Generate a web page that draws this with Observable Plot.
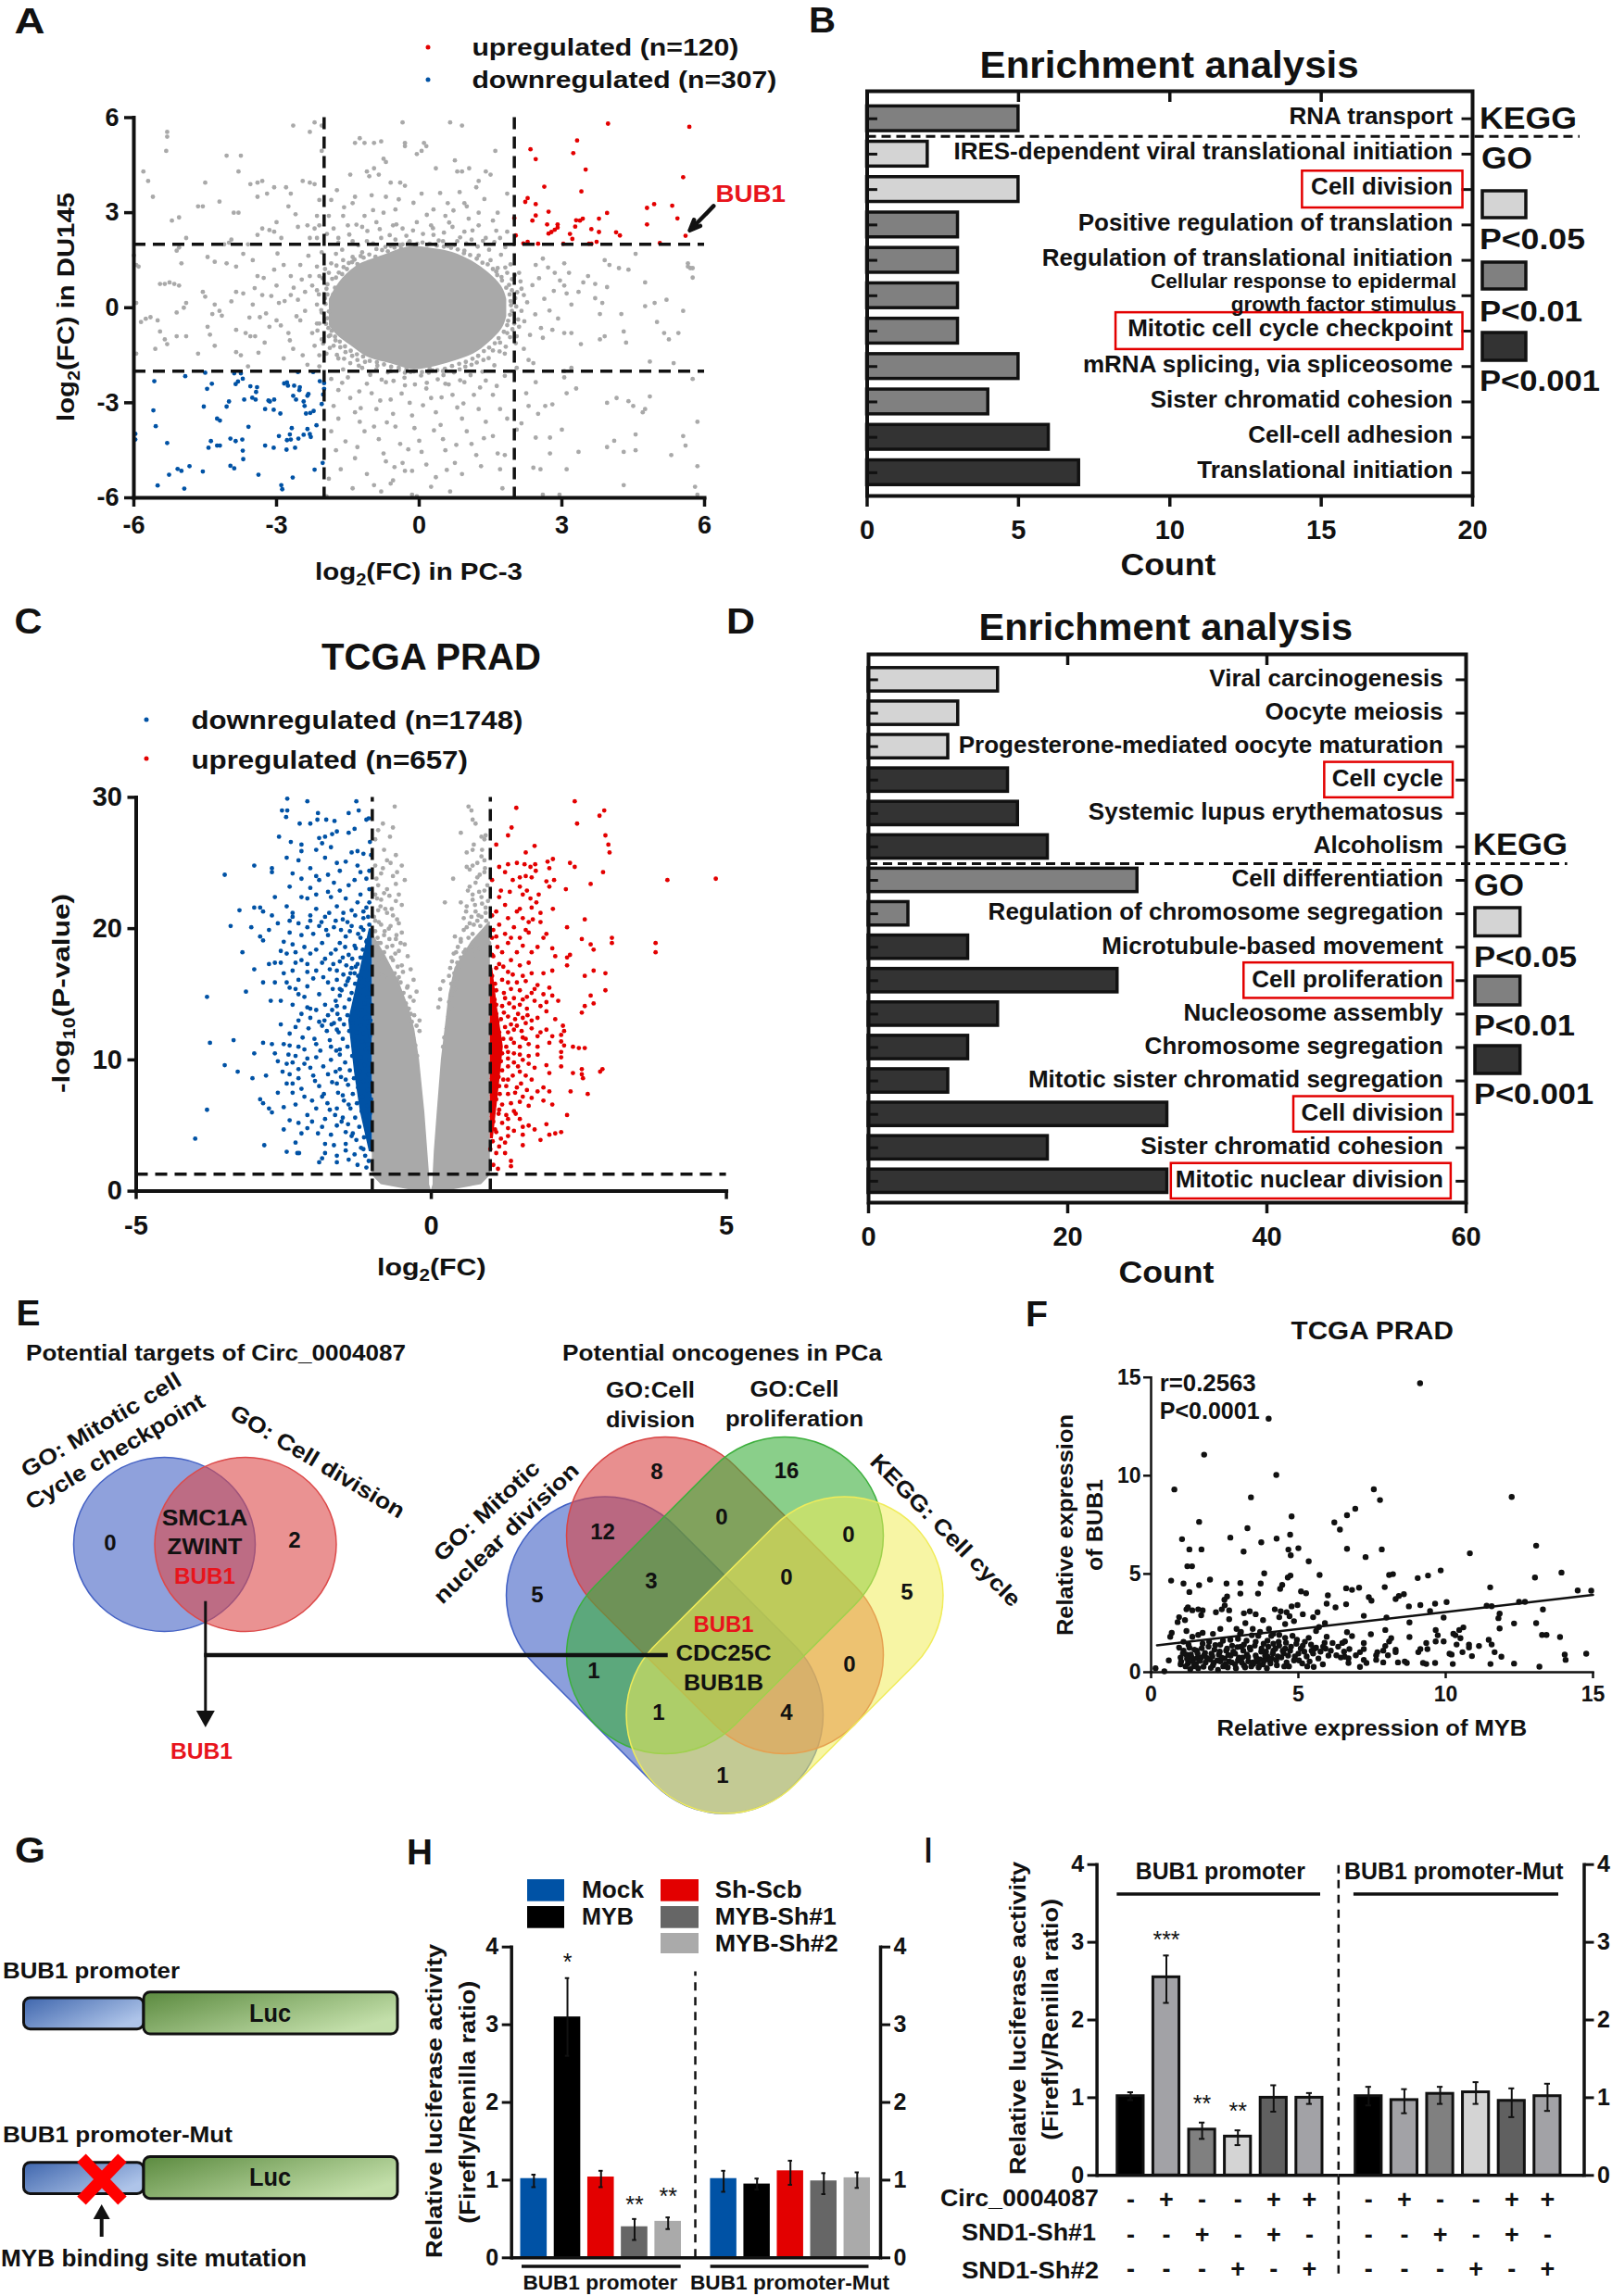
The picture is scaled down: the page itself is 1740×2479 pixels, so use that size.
<!DOCTYPE html>
<html>
<head>
<meta charset="utf-8">
<script src="https://cdn.jsdelivr.net/npm/d3@7"></script>
<script src="https://cdn.jsdelivr.net/npm/@observablehq/plot@0.6"></script>
<style>
html,body{margin:0;padding:0;background:#fff}
#page{position:relative;width:1740px;height:2479px;overflow:hidden}
#page svg{position:absolute;left:0;top:0}
</style>
</head>
<body>
<div id="page"></div>
<script>
// ---------- Panel A values ----------
const aUp=[[5.68,5.71],[3.97,5.81],[3.32,5.28],[3.24,4.88],[2.34,5],[2.45,4.69],[3.5,4.36],[5.55,4.12],[2.63,3.82],[3.41,3.67],[2.28,3.46],[2.23,3.34],[2.45,3.27],[4.94,3.27],[4.79,3.15],[5.32,3.22],[2.72,3.03],[3.95,2.99],[2.45,2.91],[5.43,2.82],[2.38,2.75],[3.78,2.81],[3.44,2.81],[3.38,2.75],[3.3,2.76],[4.79,2.63],[2.69,2.63],[2.91,2.63],[2.91,2.53],[3.28,2.56],[3.62,2.48],[2.85,2.46],[2.78,2.39],[2.72,2.34],[3.78,2.39],[4.14,2.38],[4.22,2.28],[5.6,2.27],[2.03,2.28],[3.17,2.33],[3.22,2.17],[2.28,2.08],[2.19,2.03],[2.5,2.02],[3.03,2.02],[3.57,2.02],[3.62,2.02],[3.73,2.08],[5.06,2.04],[2.0,2.83]];
const aDown=[[-5.97,-3.98],[-5.97,-4.16],[-5.57,-2.32],[-5.59,-3.24],[-5.54,-3.74],[-5.3,-4.27],[-5.5,-5.61],[-5.26,-5.27],[-5.08,-5.09],[-5,-5.15],[-4.83,-5],[-4.94,-5.71],[-4.55,-5.17],[-4.92,-2.16],[-4.5,-2.05],[-4.36,-2.4],[-4.46,-2.56],[-4.53,-3.12],[-4.25,-3.5],[-4.19,-3.56],[-4.38,-4.21],[-4.43,-4.42],[-4.25,-4.35],[-4.19,-4.35],[-3.97,-4.13],[-3.86,-4.21],[-3.72,-4.16],[-3.71,-4.51],[-3.7,-4.78],[-3.97,-4.99],[-3.89,-5.07],[-3.38,-5.27],[-3.89,-2.07],[-3.75,-2.07],[-3.71,-2.24],[-3.81,-2.33],[-3.86,-2.41],[-3.55,-2.48],[-3.41,-2.51],[-3.43,-2.66],[-3.51,-2.84],[-3.68,-2.9],[-3.44,-2.9],[-4,-2.96],[-4.05,-3.12],[-3.59,-3.76],[-3.24,-3.2],[-3.06,-3.22],[-2.92,-3.34],[-3.14,-2.96],[-3.17,-2.93],[-3.05,-2.9],[-2.84,-2.39],[-2.78,-2.36],[-2.76,-2.46],[-2.63,-2.46],[-2.51,-2.51],[-2.52,-2.6],[-2.65,-2.78],[-2.59,-2.9],[-2.43,-2.96],[-2.41,-3.1],[-2.35,-2.78],[-2.33,-2.72],[-2.38,-3.34],[-2.29,-3.32],[-2.22,-3.26],[-2.09,-2.32],[-2,-2.38],[-2,-2.56],[-2.02,-2.74],[-2.05,-3.04],[-2.16,-3.71],[-2.55,-2.03],[-2.23,-2.03],[-2.68,-3.8],[-2.72,-4],[-2.78,-4.18],[-2.79,-4.48],[-2.61,-4.42],[-2.7,-4.16],[-2.54,-4.13],[-2.43,-4.01],[-2.35,-3.83],[-2.3,-3.99],[-2.28,-4.08],[-3.24,-4.35],[-3.06,-4.42],[-2.66,-5.36],[-2.2,-5.11],[-2.03,-4.9],[-2.9,-5.6],[-2.88,-5.73],[-2.95,-4.05]];
const aGrey=[[-5.3,5.55],[-5.3,5.4],[-5.32,4.95],[-5.8,4.3],[-5.7,4],[-5.6,3.5],[-5.2,2.75],[-5.05,2.85],[-4.65,3.2],[-4.55,3.2],[-4.5,3.95],[-4.2,3.35],[-4.05,4.8],[-3.75,4.8],[-3.8,4.3],[-3.9,3],[-3.8,3],[-3.55,3.9],[-3.4,3.95],[-3.3,4],[-3.4,3.5],[-3.2,3.6],[-3.05,3.8],[-2.8,3.8],[-2.7,3.6],[-2.75,3.2],[-3,2.7],[-3.3,2.5],[-3.15,2.45],[-3.05,2.4],[-2.6,2.95],[-2.55,2.55],[-2.9,2.2],[-3.4,2.3],[-3.95,2.15],[-4,2.05],[-4.1,2],[-4.9,2.2],[-5.05,1.9],[-2.65,5.75],[-2.3,5.55],[-2.2,5.85],[-2.05,5.75],[-2.05,4.95],[-2.45,4],[-2.3,3.95],[-2.2,3.9],[-2.1,3.4],[-2.15,2.9],[-2.35,2.6],[-2.2,2.5],[-2.1,2.6],[-2.3,2.2],[-2.15,2.2],[-1.9,2.9],[-1.85,3.4],[-1.8,2.5],[-1.7,2.2],[-1.6,2.9],[-1.5,2.6],[-1.45,4.2],[-1.4,3.3],[-1.35,3.5],[-1.35,5.2],[-1.25,5.35],[-1.15,5.2],[-.95,5.2],[-.8,5.25],[-.35,5.85],[-.3,5.2],[-.3,5.1],[.1,5.2],[.15,5.1],[.05,4.95],[-.05,4.85],[.65,5.85],[.9,5.75],[1.6,4.95],[-.75,4.7],[-.7,4.6],[-.95,4.4],[-1.1,4.3],[-1.05,4.15],[-.85,4.2],[-.6,3.95],[-.4,3.95],[-.3,3.85],[.05,3.6],[.35,4.4],[.75,4.65],[.8,4.3],[.9,4.3],[1.05,4.4],[1.4,4.3],[1.5,4.2],[1.25,4],[1.2,3.8],[.85,3.65],[.95,3.3],[1,3.2],[1.25,3],[.6,3.3],[.3,3.1],[.55,2.9],[-.5,3.1],[-.7,3.5],[-1,3.55],[-1.15,2.9],[-1.2,2.55],[-.9,2.7],[-.75,3],[-.55,2.6],[-.35,2.5],[-.05,2.7],[.25,2.6],[.3,2.3],[.7,2.55],[.95,2.4],[1.25,2.6],[1.55,2.75],[1.65,3],[1.85,3.6],[1.85,2.4],[1.7,2.2],[1.4,2.2],[1.1,2.15],[.8,2.1],[.5,2.1],[-.2,2.1],[-.5,2.15],[-.8,2.2],[-1.1,2.1],[-1.4,2.1],[-1.7,2.05],[-6,1.65],[-5.95,1.35],[-5.9,1.3],[-5.95,.15],[-5.85,-.45],[-5.75,-.35],[-5.65,-.3],[-5.5,-.4],[-5.45,-.75],[-5.35,-1],[-5.55,-1.3],[-5.95,-1.45],[-5.3,-1.15],[-5.45,.75],[-5.35,.75],[-5.25,.8],[-5.15,.75],[-5.05,.7],[-5,1.4],[-5.1,1.8],[-4.95,0],[-4.9,.15],[-5.1,-.15],[-5.1,-.9],[-4.9,-.9],[-4.65,-1.45],[-4.55,.5],[-4.5,.35],[-4.45,1.6],[-4.3,1.45],[-4.3,.1],[-4.2,-.1],[-4.15,-.25],[-4.05,1.4],[-4.35,-.2],[-4.45,-.6],[-4.4,-.85],[-4.3,-1.2],[-3.95,.2],[-3.85,.5],[-3.7,.45],[-3.85,1.3],[-3.7,1.7],[-3.6,2],[-3.5,1.5],[-3.4,1],[-3.3,.4],[-3.5,.1],[-3.35,-.3],[-3.65,-.8],[-3.55,-.9],[-3.45,-.9],[-3.85,-.7],[-3.85,-1.4],[-3.75,-1.5],[-3.6,-1.85],[-3.25,-1.1],[-3.15,-.6],[-3,-.4],[-2.95,.15],[-3,.7],[-3.05,1.2],[-2.85,1.35],[-2.7,1],[-2.5,1.35],[-2.7,.4],[-2.55,.25],[-2.4,.5],[-2.4,-.1],[-2.5,-.4],[-2.75,-.8],[-2.65,-1.3],[-2.85,-1.6],[-2.45,-1.5],[-2.35,-1.8],[-2.2,-1.2],[-2.25,-.8],[-2.15,-.5],[-2.15,.1],[-2.25,.7],[-2.3,1],[-2.15,1.3],[-2.05,1.75],[-2.1,1],[-2.15,.55],[-2.05,-.15],[-2.1,-.5],[-2.05,-1],[-2.1,-1.5],[-2.1,-1.85],[-1.95,.6],[-1.98,.3],[-1.9,1.1],[-1.85,1.4],[-1.75,1.7],[-1.6,1.5],[-1.75,.95],[-1.9,-.9],[-1.8,-1.2],[-1.95,-1.45],[-1.7,-1.6],[-1.55,-1.4],[-1.45,-1.75],[-1.3,-1.65],[-1.6,-1.95],[-1.2,-1.9],[-1.4,1.6],[-1.2,1.75],[-.9,1.85],[-.6,1.95],[-.35,2],[.35,2],[.6,1.95],[.95,1.8],[1.25,1.65],[1.5,1.5],[1.65,1.25],[1.85,1.1],[1.95,.9],[1.95,.55],[2.02,.3],[1.95,-.1],[2,-.5],[1.85,-.8],[1.7,-1.1],[1.8,-1.45],[1.55,-1.35],[1.35,-1.65],[1.1,-1.8],[.85,-1.95],[.5,-2],[.2,-2.05],[-.3,-2.05],[-.6,-2],[-.9,-1.95],[2.1,1.1],[2.15,.6],[2.2,.4],[2.15,-.1],[2.1,-.6],[2.05,-.9],[2.2,-1.3],[2.3,-1.65],[2.05,-1.9],[2.4,-1.75],[2.6,-.95],[2.8,-.7],[2.6,1.55],[2.45,1.35],[2.85,1.1],[3.05,1.4],[3.15,1.1],[3.05,.7],[3.1,.45],[3.2,.1],[3.35,.5],[3.45,.8],[3.55,1],[3.9,1.5],[4,1.35],[4.2,1.25],[4.4,1.2],[3.95,.65],[3.7,.75],[3.7,.3],[3.85,.15],[3.8,-.2],[3.05,-.8],[3.2,-.8],[3.2,-1.9],[3.05,-2],[3.4,-1.15],[3.9,-.9],[3.8,-1],[4.25,-.2],[4.3,-.75],[4.35,-1.1],[4.55,1.7],[4.75,.8],[4.75,.05],[4.95,.15],[5.2,.25],[5,-.45],[5.15,-.8],[5.25,-1],[5.45,-.8],[5.55,-.1],[5.65,1.4],[5.65,1.3],[5.7,1.25],[5.75,1.25],[5.75,.95],[4.85,-1.7],[5.35,-1.75],[5.75,-2.25],[5.85,-3.6],[5.55,-4.05],[5.6,-4.35],[5.3,-4.65],[5.85,-5],[5.8,-5.65],[5.85,-5.9],[2.15,-3.65],[2.05,-3.85],[2.45,-2.35],[2.25,-2.7],[2.3,-3.1],[2.65,-3.1],[2.5,-3.35],[2.8,-3.05],[3.05,-2.2],[3.1,-2.7],[3.3,-2.55],[3,-3.85],[2.75,-4.1],[2.75,-4.6],[2.55,-5.1],[2.4,-5.05],[2.45,-4.1],[3.1,-5.1],[3.35,-4.55],[3.95,-3],[4.15,-2.85],[4.4,-2.95],[4.5,-3.1],[4.7,-3.3],[4.75,-3.2],[4.85,-2.8],[4.55,-4],[3.95,-4.4],[4.1,-4.2],[4.3,-4.55],[4.55,-4.5],[4.3,-5.6],[2.6,-5.9],[2.95,-5.9],[-1.85,-2.25],[-1.7,-2.6],[-1.8,-3.1],[-1.7,-3.5],[-1.85,-3.9],[-1.75,-4.5],[-1.65,-5.1],[-1.9,-5.4],[-1.95,-5.95],[-1.5,-2.2],[-1.45,-2.85],[-1.35,-3.3],[-1.25,-3.6],[-1.15,-3.9],[-1.3,-4.4],[-1.35,-4.75],[-1.4,-5.7],[-1.1,-5.25],[-1.1,-2.4],[-1,-2.7],[-.9,-3.2],[-.95,-3.75],[-.85,-4.15],[-.75,-4.6],[-.7,-4.85],[-.95,-5.6],[-.8,-5.8],[-.6,-5.55],[-.55,-5.45],[-.7,-2.35],[-.6,-2.9],[-.55,-3.35],[-.5,-3.75],[-.4,-4.3],[-.35,-4.9],[-.3,-5.15],[-.15,-5.15],[-.15,-5.9],[-.05,-5.95],[-.3,-2.45],[-.2,-3],[-.15,-3.4],[-.1,-3.8],[0,-4.2],[.05,-4.55],[.15,-4.95],[.35,-5.35],[.25,-5.65],[.65,-5.8],[.15,-2.55],[.25,-2.85],[.35,-3.3],[.45,-3.7],[.5,-4.15],[.55,-4.5],[.75,-4.9],[.9,-5.25],[.55,-2.4],[.7,-2.75],[.8,-3.15],[.9,-3.5],[1,-3.9],[1.1,-4.3],[1.2,-4.65],[1.3,-5],[.95,-2.35],[1.15,-2.75],[1.25,-3.2],[1.4,-3.6],[1.55,-4.05],[1.65,-4.6],[1.8,-4.65],[1.7,-5.1],[1.75,-5.7],[1.4,-2.3],[1.55,-2.75],[1.7,-3.2],[1.85,-3.5],[1.8,-2.15]];
const aGreyHalo=[[-1.62,1.83],[-1.47,2.31],[-1.28,1.97],[-1.09,2.42],[-.97,2.03],[-.83,2.48],[-.71,1.92],[-.62,2.29],[-.48,2.63],[-.41,1.98],[-.27,2.27],[-.13,2.44],[-.04,2.02],[.08,2.33],[.17,1.99],[.29,2.51],[.41,2.12],[.52,2.37],[.63,2.69],[.74,1.98],[.86,2.22],[.99,2.03],[1.12,2.44],[1.23,1.93],[1.34,2.11],[1.47,1.83],[1.58,2.07],[1.72,1.67],[1.81,1.91],[-1.98,1.22],[-2.03,.93],[-1.93,.74],[-2.11,.42],[-1.97,.12],[-2.06,-.08],[-1.99,-.37],[-2.14,-.72],[-1.91,-.64],[-1.87,-.87],[-2.02,-1.13],[-1.88,-1.27],[-1.76,-1.03],[-1.66,-1.25],[-1.73,-1.49],[-1.58,-1.61],[-1.81,.42],[-1.77,.63],[-1.69,1.11],[-1.59,1.28],[-1.48,1.41],[-1.36,1.52],[-1.23,1.63],[-1.41,-1.52],[-1.27,-1.83],[-1.14,-1.71],[-1.03,-2.12],[-.88,-1.83],[-.79,-2.27],[-.66,-2.04],[-.54,-2.31],[-.43,-1.97],[-.31,-2.21],[-.18,-2.03],[-.09,-2.42],[.04,-2.14],[.16,-2.37],[.28,-1.98],[.39,-2.26],[.51,-2.13],[.62,-2.42],[.73,-2.04],[.86,-2.29],[.97,-1.86],[1.08,-2.13],[1.21,-1.73],[1.33,-2.02],[1.46,-1.59],[1.58,-1.82],[1.69,-1.38],[1.82,-1.23],[1.91,-.93],[2.03,-1.12],[1.96,-.68],[2.08,-.37],[1.87,-.41],[2.04,.04],[1.92,.21],[2.06,.49],[1.89,.72],[2.01,1.03],[1.81,1.27],[1.73,.97],[1.62,1.14],[1.92,1.37],[2.13,.83],[2.21,-.43],[2.27,.17],[2.33,-.86],[2.38,.71],[2.44,-.21],[2.52,.93],[2.56,-.64],[2.63,.28],[2.71,1.27],[2.74,-.09],[2.83,.53],[2.92,-.34],[2.96,.86],[-2.33,1.64],[-2.47,.89],[-2.58,-.27],[-2.64,.63],[-2.72,-1.03],[-2.83,.21],[-2.91,-.56],[-2.98,1.71],[-3.11,.37],[-3.22,-.18],[-3.27,.94],[-3.38,-1.42],[-3.46,.62],[-3.57,-.31],[-.97,3.08],[-.43,3.42],[-.12,3.31],[.16,2.93],[.44,3.62],[.72,3.07],[1.04,2.81],[1.37,3.43],[-1.32,2.62],[-1.58,3.17],[-1.73,3.71],[-1.94,2.33],[1.62,2.43],[-1.62,-2.37],[-1.26,-2.64],[-.82,-2.93],[-.37,-2.71],[.08,-3.08],[.47,-2.83],[.93,-3.02],[1.28,-2.52],[1.63,-2.47],[-1.23,-3.17],[-.68,-3.62],[-.23,-4.47],[.31,-3.87],[.78,-4.33],[1.36,-4.12],[-1.55,-4.22],[-.52,-5.03],[.58,-5.12],[-1.93,.42],[-1.9,-.12],[-1.96,-.51],[-1.83,.91],[-1.74,1.33],[-1.62,1.06],[-1.52,1.22],[-1.41,1.44],[-1.3,1.38],[-1.17,1.58],[-1.05,1.68],[-.92,1.61],[-.78,1.82],[-.66,1.78],[-.52,1.9],[-.38,1.87],[-.23,2.04],[-.08,1.97],[.07,2.06],[.22,2.02],[.37,1.96],[.52,1.93],[.67,1.89],[.81,1.84],[.94,1.72],[1.07,1.66],[1.21,1.55],[1.33,1.42],[1.44,1.37],[1.55,1.22],[1.64,1.03],[1.74,.86],[1.83,.63],[1.9,.42],[1.93,.08],[1.91,-.22],[1.85,-.55],[1.78,-.76],[1.67,-.96],[1.59,-1.12],[1.47,-1.26],[1.36,-1.37],[1.24,-1.52],[1.12,-1.61],[.98,-1.71],[.84,-1.77],[.69,-1.84],[.54,-1.93],[.38,-1.97],[.22,-1.93],[.06,-2.03],[-.11,-2.01],[-.27,-1.95],[-.43,-1.89],[-.59,-1.86],[-.74,-1.79],[-.89,-1.72],[-1.04,-1.68],[-1.18,-1.54],[-1.31,-1.47],[-1.44,-1.36],[-1.56,-1.22],[-1.67,-1.07],[-1.77,-.91],[-1.84,-.73],[-1.93,-.33]];
// dense core of panel A, outline
const aCoreX=[-1.89,-1.68,-1.35,-1.03,-.59,-.16,.27,.7,1.14,1.46,1.73,1.84];
const aCoreHi=[.26,.8,1.28,1.51,1.75,1.93,1.87,1.75,1.45,1.1,.68,.26];
const aCoreLo=[-.57,-.93,-1.29,-1.59,-1.77,-1.95,-1.88,-1.7,-1.46,-1.11,-.69,-.28];

// ---------- Panel B values ----------
const bTerms=["RNA transport","IRES-dependent viral translational initiation","Cell division","Positive regulation of translation","Regulation of translational initiation","Cellular response to epidermal\ngrowth factor stimulus","Mitotic cell cycle checkpoint","mRNA splicing, via spliceosome","Sister chromatid cohesion","Cell-cell adhesion","Translational initiation"];
const bCounts=[5,2,5,3,3,3,3,5,4,6,7];
const bLevels=["P<0.01","P<0.05","P<0.05","P<0.01","P<0.01","P<0.01","P<0.01","P<0.01","P<0.01","P<0.001","P<0.001"];
const bBoxes=[["Cell division",14.38,19.68],["Mitotic cell cycle checkpoint",8.22,19.68]];
// ---------- Panel D values ----------
const dTerms=["Viral carcinogenesis","Oocyte meiosis","Progesterone-mediated oocyte maturation","Cell cycle","Systemic lupus erythematosus","Alcoholism","Cell differentiation","Regulation of chromosome segregation","Microtubule-based movement","Cell proliferation","Nucleosome assembly","Chromosome segregation","Mitotic sister chromatid segregation","Cell division","Sister chromatid cohesion","Mitotic nuclear division"];
const dCounts=[13,9,8,14,15,18,27,4,10,25,13,10,8,30,18,30];
const dLevels=["P<0.05","P<0.05","P<0.05","P<0.001","P<0.001","P<0.001","P<0.01","P<0.01","P<0.001","P<0.001","P<0.001","P<0.001","P<0.001","P<0.001","P<0.001","P<0.001"];
const dBoxes=[["Cell cycle",45.8,58.7],["Cell proliferation",37.7,58.7],["Cell division",42.7,58.7],["Mitotic nuclear division",30.4,58.5]];
const levelNames=["P<0.05","P<0.01","P<0.001"];
const levelColors=["#d4d4d4","#808080","#333333"];

// ---------- Panel C values ----------
const cDown=[[-2.44,29.9],[-2.53,29],[-2.44,29],[-2.46,28.5],[-2.1,29.7],[-1.27,29.7],[-1.23,29],[-1.4,28.8],[-1.1,28.3],[-1.06,28.4],[-1.92,28.8],[-2.23,28],[-2.05,28],[-1.93,28.3],[-1.78,28.3],[-1.64,28.2],[-1.3,27.6],[-1.4,27.3],[-1.6,27.4],[-1.68,27.2],[-1.8,27],[-1.9,26.9],[-2.58,27],[-2.38,26.6],[-2.2,26.4],[-2.2,25.9],[-1.85,26.5],[-1.95,26],[-1.7,26.2],[-1.35,25.8],[-1.25,25.9],[-1.15,25.7],[-2.45,25.4],[-2.25,25.2],[-1.8,25.4],[-1.6,25],[-1.45,25.1],[-1.25,24.8],[-3.0,24.8],[-2.7,24.6],[-2.7,24.3],[-3.5,24.1],[-2.35,24.2],[-2.05,24.6],[-1.95,24],[-1.75,24.1],[-1.55,24.4],[-1.2,24.3],[-1.1,23.8],[-2.2,23.8],[-1.9,23.7],[-1.65,23.5],[-1.4,23.3],[-1.3,23.7],[-2.4,23.2],[-2.05,23.1],[-1.75,22.8],[-1.55,22.9],[-1.2,22.6],[-1.05,23],[-2.65,22.4],[-2.2,22.4],[-2.1,22.3],[-1.95,22.6],[-1.7,22.4],[-1.45,22.3],[-1.25,22],[-1.1,21.6],[-2.45,21.7],[-2.9,21.6],[-3,21.6],[-3.25,21.4],[-1.95,21.5],[-1.6,21.7],[-1.35,21.4],[-2.7,21],[-2.85,21.3],[-2.35,20.9],[-2.05,21],[-1.8,20.9],[-1.5,20.7],[-1.15,20.8],[-2.4,20.6],[-2.6,20.4],[-3.05,20.1],[-3.4,20.2],[-2.1,20.1],[-1.9,20.2],[-1.65,20.1],[-1.35,20.2],[-1.15,19.9],[-2.75,19.9],[-2.4,19.7],[-2.2,19.5],[-2,19.6],[-1.75,19.5],[-1.45,19.4],[-1.2,19.3],[-2.9,19.4],[-2.85,19.1],[-2.5,19],[-1.55,18.9],[-1.85,18.9],[-1.3,18.7],[-1.05,18.8],[-2.55,18.3],[-2.45,18.1],[-3.2,18.2],[-2.3,18.2],[-2.05,18.1],[-1.7,18.1],[-1.4,18],[-1.1,18],[-2.65,17.4],[-2.55,17.4],[-2.2,17.6],[-1.85,17.4],[-1.55,17.5],[-1.25,17.3],[-3,16.9],[-2.35,16.8],[-2.1,16.7],[-1.6,16.8],[-1.3,16.6],[-2.85,15.9],[-2.65,15.9],[-2.45,15.9],[-2.3,15.4],[-2.1,15.6],[-1.75,15.9],[-1.45,15.7],[-3.14,15.2],[-3.8,14.8],[-2.25,15],[-2.15,14.8],[-1.9,15],[-1.55,14.9],[-2.72,14.5],[-2.1,14],[-1.8,14.2],[-1.6,14.1],[-2.2,13.5],[-2.05,13.2],[-1.75,13.4],[-2.3,12.5],[-1.85,12.6],[-1.6,12.3],[-3.75,11.3],[-3.35,11.5],[-2.85,11.3],[-2.7,11.2],[-2.5,11.2],[-2.4,11.1],[-2.25,11],[-2.15,10.8],[-1.95,11.2],[-1.7,11],[-3,10.5],[-2.65,10.5],[-1.95,10.2],[-1.7,10],[-2.45,9.7],[-2.35,9.8],[-2.15,9.7],[-3.5,9.6],[-2.25,9.3],[-3.28,9.1],[-2.8,8.8],[-3.03,8.6],[-2.4,8.9],[-2.0,8.8],[-1.75,8.9],[-2.35,8.2],[-1.9,8],[-1.6,8.2],[-2.6,7.5],[-2.35,7.5],[-2.15,7.2],[-1.85,7.2],[-1.5,7.3],[-2.9,7],[-2.85,6.7],[-2.75,6.3],[-2.7,6],[-2.5,6.4],[-2.3,6.6],[-1.95,6.3],[-1.6,6.3],[-3.8,6.2],[-2.1,5.8],[-1.8,5.5],[-1.5,5.6],[-2.25,5.2],[-1.85,4.9],[-1.6,5],[-2.5,4.7],[-2.2,4.4],[-2.1,4.8],[-4,4],[-2.3,3.7],[-1.8,3.6],[-1.65,3.5],[-1.45,3.6],[-2.83,3.5],[-2.45,3],[-2.27,2.9],[-2.24,2.9],[-1.8,2.9],[-1.6,2.7],[-1.9,2.2],[-1.85,2.5],[-1.6,2.2],[-1.4,2.4],[-1.3,2.8],[-1.25,2],[-1.45,3.1],[-1.15,3.2],[-1.1,1.8],[-1.35,4.2],[-1.45,4.5],[-1.4,6.6],[-1.45,8.5],[-1.55,9.3],[-1.55,10.8],[-1.65,12.8],[-1.55,13.1],[-1.55,15.4],[-1.4,16.2],[-1.35,17],[-1.2,16.2],[-1.15,17.8],[-1.1,19],[-1.05,20.3],[-1.15,21.3],[-1.05,22],[-1.05,24.4],[-1.02,25.6],[-1.04,26.6]];
const cDownDense=[[-1.06,2.3],[-1.12,2.7],[-1.19,3.3],[-1.03,3.7],[-1.27,3.9],[-1.14,4.1],[-1.33,4.4],[-1.07,4.7],[-1.22,4.9],[-1.41,5.1],[-1.52,5.3],[-1.11,5.4],[-1.29,5.6],[-1.63,5.8],[-1.04,5.9],[-1.18,6.1],[-1.37,6.3],[-1.72,6.2],[-1.09,6.5],[-1.26,6.7],[-1.48,6.9],[-1.02,7],[-1.17,7.2],[-1.33,7.4],[-1.58,7.5],[-1.82,7.4],[-1.08,7.7],[-1.24,7.9],[-1.41,8.1],[-1.03,8.3],[-1.15,8.4],[-1.31,8.6],[-1.53,8.7],[-1.68,8.3],[-1.97,8.4],[-1.07,8.9],[-1.21,9.1],[-1.38,9.2],[-1.62,9.1],[-1.02,9.4],[-1.13,9.6],[-1.27,9.7],[-1.46,9.8],[-1.83,9.5],[-2.05,9.4],[-1.06,10],[-1.19,10.2],[-1.34,10.3],[-1.55,10.4],[-1.03,10.6],[-1.11,10.8],[-1.25,10.9],[-1.42,11],[-1.61,10.7],[-1.88,10.7],[-1.08,11.2],[-1.17,11.4],[-1.31,11.5],[-1.5,11.6],[-1.72,11.5],[-1.98,11.6],[-1.04,11.8],[-1.14,12],[-1.27,12.1],[-1.39,12.2],[-1.57,12.1],[-1.77,12.2],[-2.08,12.4],[-1.07,12.5],[-1.2,12.6],[-1.34,12.8],[-1.48,12.7],[-1.69,12.7],[-1.9,12.9],[-1.03,13],[-1.12,13.2],[-1.25,13.3],[-1.42,13.4],[-1.59,13.5],[-1.81,13],[-1.06,13.7],[-1.18,13.8],[-1.31,13.9],[-1.47,14],[-1.68,13.8],[-1.95,13.8],[-1.02,14.2],[-1.13,14.3],[-1.26,14.5],[-1.39,14.6],[-1.62,14.5],[-1.08,14.8],[-1.21,15],[-1.35,15.1],[-1.52,15.3],[-1.67,15.4],[-1.04,15.4],[-1.16,15.6],[-1.29,15.8],[-1.42,16],[-1.6,16.1],[-1.83,16.3],[-1.09,16.1],[-1.24,16.4],[-1.37,16.6],[-1.49,16.5],[-1.72,16.9],[-1.95,16.8],[-1.03,16.8],[-1.14,17],[-1.28,17.1],[-1.44,17.2],[-1.66,17.3],[-1.07,17.5],[-1.2,17.8],[-1.34,17.7],[-1.5,17.8],[-1.8,17.7],[-1.02,18.2],[-1.16,18.4],[-1.28,18.5],[-1.46,18.6],[-1.62,18.4],[-1.95,18.4],[-1.09,19.1],[-1.24,19.6],[-1.38,19.8],[-1.53,19.9],[-1.78,19.9],[-1.03,19.7],[-1.19,20.1],[-1.42,20.5],[-1.62,20.6],[-1.86,20.5],[-1.07,20.9],[-1.29,21],[-1.49,21.2],[-1.73,21.2],[-1.7,4.3],[-1.92,4.4],[-2.02,5.3],[-2.4,5.4],[-1.76,6.7],[-2.02,6.9],[-2.2,7.8],[-2.45,8.2],[-2.25,8.6],[-2.52,9.1],[-2.1,10.1],[-2.3,10.3],[-2.6,9.9],[-2.42,10.4],[-2.18,11.7],[-2.4,12],[-2.55,12.7],[-2.25,13],[-2.05,13.9],[-2.35,14.2],[-2.55,14.5],[-2.4,15.5],[-2,16.2],[-2.25,16.1],[-2.5,16.6],[-2.1,17.3],[-2.3,17.4],[-2.75,17.3],[-2.15,18.6],[-2.35,18.8],[-2.25,20.4],[-2.05,20.6],[-2.35,21.2]];
const cUp=[[1.44,29.2],[2.43,29.7],[2.93,29],[2.85,28.6],[2.47,28],[1.36,27.7],[1.3,27.1],[2.95,27.1],[3,26.4],[3.02,25.8],[1.1,26.4],[1.75,26.3],[1.6,25.8],[2.06,25.3],[1.97,25.1],[1.76,24.9],[1.58,24.9],[1.68,24.7],[2.35,25],[1.45,25],[1.3,24.9],[1.15,24.7],[2.43,24.7],[1.77,24.4],[1.25,24.3],[2,24.6],[1.6,24],[1.7,23.9],[2.91,24.3],[1.38,23.7],[1.5,23.9],[1.95,23.6],[2.08,23.7],[2.7,23.4],[1.03,23.7],[4.0,23.7],[4.82,23.8],[2,23.2],[1.5,23.2],[1.62,22.9],[2.28,23],[1.18,22.9],[1.33,22.8],[1.82,22.6],[1.15,22.4],[1.55,22.6],[1.68,22.3],[1.78,22],[1.25,21.8],[1.5,21.5],[1.7,21.6],[2.06,21.5],[1.1,21.3],[1.45,21.3],[1.85,21.2],[1.03,21],[1.3,20.8],[1.55,20.8],[1.72,20.7],[1.65,20.5],[2.6,20.7],[1.85,20.5],[1.15,20.3],[1.4,20.1],[2.3,20.1],[1.05,19.9],[1.65,19.7],[1.95,19.6],[2.55,19.2],[1.1,19.4],[1.35,19.3],[1.5,19.3],[1.9,19.3],[3.06,19.3],[3.06,18.9],[3.8,18.9],[2.7,18.8],[1.3,18.9],[1.55,18.7],[1.8,18.6],[2.05,18.5],[2.75,18.4],[3.8,18.2],[1.2,18.2],[1.45,18.2],[1.7,18.2],[2.35,18],[2.3,17.8],[2.1,17.9],[1.05,17.9],[1.35,17.6],[1.65,17.4],[1.5,17.2],[2.3,17.2],[2.05,16.8],[2.75,16.8],[2.95,16.6],[1.1,17],[1.3,16.7],[1.7,16.6],[2.6,16.4],[1.55,16.4],[1.2,16.1],[1.45,15.9],[1.8,15.7],[1.35,15.4],[2.0,15.5],[2.95,15.3],[1.1,15.3],[1.7,15.1],[1.9,15],[2.05,14.9],[2.7,14.9],[1.25,14.7],[1.55,14.6],[1.75,14.5],[1.95,14.4],[2.15,14.5],[2.75,14.3],[2.6,14.1],[1.1,14.2],[1.4,14],[1.62,13.9],[1.95,13.7],[2.55,13.6],[1.3,13.3],[1.55,13.2],[1.8,13.2],[2.1,13.1],[1.12,12.9],[1.45,12.6],[1.7,12.4],[1.95,12.3],[2.23,12.6],[1.3,12.1],[2.25,12.2],[2.2,11.9],[1.55,11.7],[1.8,11.8],[2.05,11.8],[1.15,11.5],[1.4,11.3],[1.65,11.2],[2.0,11.3],[2.2,11.4],[2.25,11.1],[2.4,11],[2.5,10.9],[2.6,10.9],[1.3,10.6],[1.5,10.4],[1.8,10.4],[2.2,10.6],[2.2,10.2],[1.1,10],[1.4,9.8],[1.65,9.7],[1.95,9.6],[2.2,9.5],[2.55,9.3],[2.9,9.3],[2.86,9.1],[1.2,9.2],[1.5,9.1],[2,9],[2.4,9],[2.55,8.9],[2.57,8.6],[1.3,8.5],[1.7,8.5],[1.15,8],[1.45,7.9],[1.9,7.9],[2.0,7.6],[1.8,7.6],[2.36,7.6],[2.65,7.4],[1.3,7.4],[1.55,7.2],[1.7,7.1],[1.1,7],[1.9,6.9],[1.35,6.7],[1.65,6.5],[2.05,6.6],[1.15,6.2],[1.4,6.1],[2.3,5.8],[1.3,5.5],[1.5,5.5],[1.05,5.3],[1.2,5.2],[1.65,5],[1.55,4.9],[1.75,4.7],[1.95,5.1],[1.4,4.6],[1.1,4.5],[1.3,4.2],[1.55,4.3],[2.0,4.3],[2.2,4.5],[2.1,4.4],[1.85,3.9],[1.25,3.7],[1.15,3.4],[1.55,3.5],[1.1,2.9],[1.25,2.9],[1.0,3.2],[1.35,2.3],[1.35,1.9],[1.13,1.7],[1.05,2]];
const cUpDense=[[1.04,3.8],[1.18,4],[1.08,4.7],[1.3,4.8],[1.03,5.7],[1.14,5.9],[1.27,5.8],[1.43,5.9],[1.06,6.5],[1.2,6.6],[1.5,6.8],[1.03,7.3],[1.16,7.4],[1.42,7.5],[1.62,7.7],[1.07,7.8],[1.27,8],[1.52,8.2],[1.03,8.6],[1.14,8.7],[1.22,8.5],[1.38,8.8],[1.6,8.8],[1.05,9.3],[1.3,9.5],[1.47,9.5],[1.75,9.4],[1.02,9.7],[1.18,9.9],[1.3,10.1],[1.55,10],[1.05,10.3],[1.2,10.5],[1.4,10.5],[1.65,10.3],[1.03,10.8],[1.12,11],[1.27,11],[1.5,11],[1.8,11],[1.07,11.4],[1.22,11.6],[1.35,11.6],[1.6,11.6],[1.03,11.9],[1.15,12.1],[1.4,12.3],[1.53,12.2],[1.85,12.1],[1.08,12.4],[1.25,12.5],[1.35,12.7],[1.6,12.8],[1.03,12.9],[1.18,13.1],[1.42,13.1],[1.7,13],[1.1,13.5],[1.23,13.6],[1.47,13.5],[1.63,13.4],[1.03,14],[1.2,14.1],[1.32,14.3],[1.5,14.2],[1.85,14.1],[1.07,14.6],[1.4,14.7],[1.62,14.8],[1.03,15.2],[1.23,15.1],[1.5,15.3],[1.75,15.4],[1.08,15.8],[1.3,15.9],[1.6,16],[1.03,16.4],[1.38,16.5],[1.9,16.6],[1.15,17.3],[1.22,17.1],[1.03,18],[1.12,18.6],[1.03,19.3],[1.25,19.6],[1.6,19.9]];
const cGrey=[[-.62,29.3],[-.82,28],[-.9,27.5],[-.65,27.7],[-.7,27],[-.95,26.8],[-.8,26],[-.6,25.6],[-.75,25.2],[-.5,24.8],[-.95,24.8],[-.85,24.2],[-.65,24],[-.45,23.7],[-.9,23.3],[-.75,23],[-.6,23.4],[-.95,22.6],[-.85,22.2],[-.6,22.1],[-.5,21.8],[-.9,21.4],[-.75,21.2],[-.65,21],[-.95,20.6],[-.85,20.3],[-.55,20.4],[-.72,20],[-.5,19.7],[-.95,19.8],[-.8,19.5],[-.6,19.2],[-.45,18.8],[-.9,18.9],[-.75,18.6],[-.55,18.3],[-.4,17.9],[-.85,17.9],[-.65,17.6],[-.95,17.4],[-.5,17.2],[-.35,16.9],[-.7,16.8],[-.85,16.5],[-.55,16.3],[-.3,16.1],[-.4,15.6],[-.25,15.2],[-.3,14.5],[-.35,13.5],[-.2,13],[-.2,12.2],[.63,29.3],[.68,29],[.7,28.3],[.75,28],[.92,27.1],[.85,27],[.5,27.3],[.9,26.8],[.6,25.8],[.7,26],[.85,25.5],[.9,25.2],[.78,25],[.6,24.7],[.65,24.5],[.9,24.3],[.82,24.1],[.37,23.8],[.75,23.5],[.95,23.3],[.9,22.9],[.62,22.9],[.23,22],[.7,22.2],[.85,22.4],[.5,22],[.6,21.7],[.92,21.6],[.75,21.3],[.85,20.9],[.55,20.8],[.65,20.4],[.78,20.6],[.95,20.1],[.55,19.9],[.7,19.6],[.4,19.4],[.88,19.3],[.5,19],[.98,18.9],[.45,18.6],[.55,18.2],[.38,18.1],[.72,18],[.9,17.8],[.35,17.5],[.32,17],[.3,16.4],[.2,16],[.15,15.4],[.15,14.6],[.12,14],[-.24,10.3],[-.27,11.1],[-.31,11.7],[-.25,12.6],[-.33,12.9],[-.29,13.4],[-.38,13.9],[-.43,14.3],[-.36,14.8],[-.47,15.1],[-.41,15.5],[-.52,15.9],[-.58,16.1],[-.62,16.6],[-.48,16.7],[-.73,16.2],[-.82,16.4],[-.91,16.1],[-.57,17.1],[-.77,17.3],[-.92,17],[-.68,17.8],[-.83,17.6],[-.98,17.9],[-.61,18.1],[-.8,18.2],[-.94,18.4],[-.66,18.7],[-.86,18.9],[-.52,18.9],[-.71,19.2],[-.91,19.3],[-.59,19.5],[-.79,19.8],[-.69,20.2],[-.89,20.5],[-.97,20.9],[-.58,20.7],[-.78,21.5],[-.86,21.7],[-.67,21.5],[-.92,22.3],[-.71,22.5],[-.8,22.7],[-.55,22.6],[-.93,23.8],[-.82,24.6],[-.69,25],[-.58,24.3],[.2,11],[.22,11.7],[.26,12.4],[.29,13.3],[.34,13.9],[.3,14.4],[.36,15],[.4,15.4],[.34,15.8],[.43,16.2],[.39,16.6],[.47,17],[.44,17.4],[.5,17.8],[.42,18.2],[.58,18.4],[.68,18.6],[.82,18.5],[.93,18.7],[.5,19.2],[.63,19.3],[.75,19.1],[.85,19.4],[.97,19.6],[.6,20.1],[.72,20.3],[.83,20.2],[.93,20.6],[.68,20.9],[.8,21],[.92,21.2],[.59,21.3],[.74,21.8],[.86,21.9],[.96,22.1],[.7,22.6],[.81,22.8],[.65,23.2],[.78,23.9],[.91,24.6],[.7,24.8],[.86,26],[.72,26.4]];
// filled dense wedges of panel C, edges
const cGreyLeftY=[.05,.5,1.2,3,6,10,12.3,14,16,18,19.5];
const cGreyLeftOuter=[-.3,-.85,-1,-1,-1,-1,-1,-1,-1,-1,-1];
const cGreyLeftInner=[0,-.03,-.03,-.06,-.11,-.2,-.28,-.38,-.55,-.78,-.98];
const cGreyRightY=[.05,.5,1.2,3,6,10,13,15,17,19,20.5];
const cGreyRightInner=[0,.03,.03,.05,.1,.17,.25,.3,.4,.68,.98];
const cGreyRightOuter=[.3,.85,1,1,1,1,1,1,1,1,1];
const cBlueBandY=[3,6,9,13,16,20];
const cBlueBandX=[-1.05,-1.2,-1.3,-1.4,-1.25,-1.05];
const cRedBandY=[4,8,11,14,17];
const cRedBandX=[1.05,1.15,1.22,1.12,1.04];

// ---------- Panel F values ----------
const fPoints=[[.79,9.3],[1.8,11.07],[3.99,12.9],[9.13,14.7],[4.25,10.04],[3.39,8.9],[7.56,9.31],[7.77,8.76],[6.93,8.32],[6.65,7.99],[4.77,7.93],[1.63,7.65],[6.22,7.62],[6.41,7.26],[3.27,7.33],[4.72,7],[2.69,6.85],[1.05,6.77],[4.26,6.8],[3.74,6.61],[1.3,6.25],[1.71,6.25],[3.14,6.14],[4.66,6.24],[5,6.31],[4.74,5.95],[6.65,6.28],[7.83,6.25],[10.82,6.05],[13.07,6.44],[12.24,8.92],[7.28,5.86],[5.35,5.64],[1.23,5.39],[1.39,5.39],[3.84,5.03],[5.72,4.95],[4.73,4.92],[4.64,4.82],[8.08,4.95],[8.21,4.99],[9.83,5.18],[9.4,4.92],[9.05,4.79],[13.03,4.82],[13.93,5.07],[.68,4.66],[1.1,4.51],[1.63,4.43],[2,4.71],[2.56,4.51],[3.03,4.54],[3.72,4.51],[4.45,4.44],[4.38,4.24],[1.3,4.08],[3.03,4],[3.63,4],[5.09,4.11],[5.26,4.02],[6.62,4.27],[6.82,4.19],[7.06,4.3],[7.93,4.33],[6,3.91],[7.39,3.82],[7.48,3.64],[8.58,3.97],[8.41,3.88],[8.3,3.72],[11.51,4.32],[14.48,4.16],[14.94,4.15],[2.58,3.85],[2.49,3.69],[10.03,3.57],[9.64,3.49],[9.14,3.42],[8.75,3.35],[6.62,3.46],[6.26,3.3],[5.96,3.49],[4.97,3.42],[4.77,3.35],[11.39,3.38],[11.56,3.36],[12.49,3.58],[12.69,3.58],[13.3,3.19],[9.47,3.11],[11.83,2.98],[11.79,2.75],[9.93,2.78],[7.99,2.78],[7.22,2.87],[8.77,2.53],[12.32,2.48],[13.07,2.5],[11.83,2.23],[10.6,2.28],[10.46,2.15],[7.95,2.15],[6.65,2.04],[13.27,1.9],[13.42,1.9],[13.88,1.79],[8.77,1.79],[7.46,1.93],[6.82,1.84],[14.77,.94],[14.04,.9],[14.07,.63],[13.18,.28],[12.32,.44],[11.52,.42],[11.89,.79],[11.66,1.02],[11.46,1.65],[11.56,1.41],[11.13,1.33],[10.79,1.41],[10.79,1.26],[10.57,1.02],[10.89,.82],[10.5,1.73],[10.37,1.41],[10.26,1.96],[10.33,1.88],[10.13,.94],[10.2,.9],[10.24,.42],[9.64,.47],[9.34,.42],[9.23,.47],[9.93,1.57],[9.66,1.57],[9.73,1.88],[9.66,2.15],[9.34,1.49],[9.38,1.18],[9.14,1.18],[9.07,1.02],[8.68,.47],[8.61,.55],[8.38,.5],[8.3,1.14],[8.3,1.02],[8.15,1.73],[8.08,1.57],[7.95,1.33],[7.88,1.1],[8.04,.86],[7.88,.5],[7.68,1.02],[7.64,.86],[7.64,.63],[7.31,.47],[7.22,.63],[7.09,.27],[7.22,1.49],[7.22,1.18],[7.09,1.02],[6.95,.86],[6.7,.71],[6.57,.79],[6.7,.47],[6.49,1.49],[6.58,1.57],[6.73,1.18],[6.29,.86],[6.16,1.49],[5.96,1.8],[5.89,1.5],[5.83,.4],[5.52,.27],[5.3,.3],[5.84,1.3],[5.6,1.25],[5.45,1.1],[5.2,1.05],[5.0,.95],[4.85,.6],[4.68,.3],[4.6,.5],[4.5,.95],[4.35,1.35],[4.15,1.1],[3.95,.8],[3.8,.4],[3.65,.25],[3.45,.5],[3.25,.9],[3.05,1.3],[2.85,.95],[2.65,.55],[2.45,.3],[2.25,.6],[2.05,.95],[1.85,.5],[1.6,.2],[1.4,.55],[1.2,.9],[1,.4],[.6,.6],[.45,.05],[.15,.2],[.95,1.25],[1.1,1.1],[1.3,1.25],[1.55,1.1],[1.75,1.45],[1.95,1.3],[2.15,1.15],[2.35,1.4],[2.55,1.1],[2.75,1.35],[2.95,1.7],[3.15,1.4],[3.35,1.25],[3.55,1.55],[3.75,1.2],[3.95,1.6],[4.15,1.45],[4.35,1.9],[4.55,1.75],[4.75,1.3],[4.95,1.65],[5.15,1.35],[5.35,1.75],[5.55,1.2],[.65,1.8],[.7,2],[.9,2.55],[.95,2.8],[1.15,2.65],[1.2,2.1],[1.4,1.8],[1.6,1.9],[1.75,2],[2.1,1.95],[2.35,2.2],[2.65,2.7],[2.9,2.2],[3.05,2.05],[3.2,2.5],[3.45,2.2],[3.7,2.05],[3.8,2.65],[4,2.2],[4.15,1.95],[4.35,2.8],[4.55,2.45],[4.7,2.85],[4.85,2.6],[5.15,2.95],[5.5,2.8],[5.65,3.05],[5.7,2.3],[5.9,2.5],[5.6,2.1],[1.2,3.2],[1.25,3.3],[1.4,3.15],[1.6,3.2],[1.75,3.15],[1.7,2.9],[2.2,3.05],[2.4,3.2],[2.5,3.4],[2.65,3.15],[3.15,3.0],[3.35,3.1],[3.55,2.95],[4.2,3.2],[4.4,3.1],[4.6,3.05],[1.1,1.55],[1.35,.9],[1.55,.7],[1.8,.85],[2.0,.65],[2.3,.9],[2.5,.7],[2.7,.85],[2.95,.6],[3.1,.75],[3.3,.55],[3.55,.85],[3.7,.65],[3.9,1.05],[4.1,.7],[4.3,.8],[4.55,1.2],[1.0,.75],[1.25,.45],[1.45,.3],[1.7,.75],[2.1,.35],[2.35,.55],[2.6,.25],[2.85,.4],[3.15,.35],[3.4,.3],[3.6,.55],[3.85,.6],[4.05,.45],[4.25,.6]];
const fDense=[[1.02,.55],[1.08,.95],[1.17,.3],[1.22,.68],[1.27,1.4],[1.33,.15],[1.38,.75],[1.47,1.15],[1.52,.42],[1.58,.95],[1.66,.58],[1.72,1.22],[1.78,.28],[1.83,.98],[1.9,.72],[1.97,1.55],[2.03,.22],[2.08,.8],[2.13,.48],[2.18,1.38],[2.27,.12],[2.33,1.05],[2.39,.75],[2.44,1.6],[2.52,.4],[2.58,1.2],[2.62,.88],[2.69,1.65],[2.74,.5],[2.79,1.05],[2.88,.2],[2.93,1.28],[2.98,.75],[3.02,1.95],[3.08,.5],[3.13,1.1],[3.19,.25],[3.24,1.6],[3.29,.78],[3.37,1.15],[3.42,1.88],[3.47,.42],[3.52,1.35],[3.58,.7],[3.64,1.85],[3.68,.35],[3.74,1.05],[3.82,1.45],[3.87,.85],[3.93,.2],[3.98,1.3],[4.03,.6],[4.08,1.85],[4.13,.95],[4.22,1.2],[4.27,.35],[4.33,1.55],[4.42,.75],[4.47,1.1],[4.52,.3],[4.58,1.5],[4.65,.85],[4.72,1.1],[4.8,1.85],[4.88,.8],[4.93,1.45],[5.02,.6],[5.08,1.2],[5.13,.45],[5.22,1.55],[5.28,.8],[5.38,.55],[5.43,1.4],[5.5,.95],[5.68,.7],[5.75,1.05],[5.92,1.2],[6.02,.85],[6.1,1.1],[6.35,1.3],[6.44,.75],[6.55,1.05]];
const fFitX=[.2,15],fFitY=[1.37,3.93];

// ---------- Panel H values ----------
const hGroups=["Mock","MYB","Sh-Scb","MYB-Sh#1","MYB-Sh#2"];
const hColors=["#0052a5","#000000","#e30000","#666666","#aaaaaa"];
const hPromoter=[1.02,3.1,1.04,.4,.47],hPromoterHi=[1.07,3.6,1.12,.5,.52],hPromoterLo=[.91,2.6,.91,.23,.37];
const hMut=[1.02,.95,1.12,.99,1.03],hMutHi=[1.12,1.02,1.25,1.09,1.1],hMutLo=[.85,.88,.94,.82,.9];
const hStars=[["MYB",3.8,"*"],["MYB-Sh#1",.68,"**"],["MYB-Sh#2",.79,"**"]];
// ---------- Panel I values ----------
const iGroups=["Control","Circ_0004087","SND1-Sh#1","SND1-Sh#2","Circ+Sh#1","Circ+Sh#2"];
const iColors=["#000000","#a2a2a6","#808080","#d4d4d4","#606060","#a2a2a6"];
const iPromoter=[1.02,2.55,.59,.5,1,1],iPromoterHi=[1.07,2.83,.68,.58,1.16,1.06],iPromoterLo=[.97,2.22,.47,.39,.82,.92];
const iMut=[1.02,.97,1.05,1.07,.96,1.02],iMutHi=[1.14,1.11,1.14,1.2,1.12,1.18],iMutLo=[.9,.8,.92,.92,.75,.83];
const iStars=[["Circ_0004087",3.02,"***"],["SND1-Sh#1",.92,"**"],["SND1-Sh#2",.82,"**"]];
const rowCirc=["-","+","-","-","+","+"],rowSh1=["-","-","+","-","+","-"],rowSh2=["-","-","-","+","-","+"];

// ---------- helpers ----------
const FONT='"Liberation Sans", Arial, sans-serif', INK="#111";
const page=document.getElementById("page");
const box=(x0,x1,y0,y1)=>({width:1740,height:2479,marginLeft:x0,marginRight:1740-x1,marginTop:y0,marginBottom:2479-y1,
  style:{fontFamily:FONT,fontWeight:"bold",background:"transparent",overflow:"visible",color:INK,maxWidth:"none"}});
const add=p=>{page.append(p);return p};
const fmt=d=>String(d);
const dot=(data,fill,r)=>Plot.dot(data,{x:d=>d[0],y:d=>d[1],r,fill,stroke:null});
const tbl=(names,cols)=>names.map((n,i)=>Object.fromEntries([["name",n],...Object.entries(cols).map(([k,v])=>[k,v[i]])]));

// ---------- Panel A ----------
add(Plot.plot({...box(144,760,126.5,537),
  x:{domain:[-6,6],label:null},y:{domain:[-6,6],label:null},
  marks:[
    Plot.areaY(aCoreX.map((x,i)=>({x,lo:aCoreLo[i],hi:aCoreHi[i]})),{x:"x",y1:"lo",y2:"hi",fill:"#a9a9a9",curve:"natural"}),
    dot(aGrey,"#a9a9a9",2.4),dot(aGreyHalo,"#a9a9a9",2.4),dot(aUp,"#e30000",2.4),dot(aDown,"#0052a5",2.4),
    Plot.ruleX([-2,2],{stroke:INK,strokeWidth:3.5,strokeDasharray:"13,8"}),
    Plot.ruleY([-2,2],{stroke:INK,strokeWidth:3.5,strokeDasharray:"13,8"}),
    Plot.frame({anchor:"left",stroke:INK,strokeWidth:4}),Plot.frame({anchor:"bottom",stroke:INK,strokeWidth:4}),
    Plot.axisX({ticks:[-6,-3,0,3,6],tickSize:10,strokeWidth:3.5,tickPadding:9,fontSize:27,tickFormat:fmt,label:null}),
    Plot.axisY({ticks:[-6,-3,0,3,6],tickSize:10,strokeWidth:3.5,tickPadding:6,fontSize:27,tickFormat:fmt,label:null}),
    Plot.arrow([{x1:6.19,y1:3.21,x2:5.69,y2:2.44}],{x1:"x1",y1:"y1",x2:"x2",y2:"y2",stroke:INK,strokeWidth:4.5,headLength:15,headAngle:45,bend:0})
  ]}));

// ---------- Panels B and D ----------
function enrichment(terms,counts,levels,boxes,frameBox,xMax,ticks,rangeY,dashTerm,dashDy,dashEnd,labelX,tickIn,labelDy){
  const rows=tbl(terms,{count:counts,level:levels});
  const h=frameBox[3]-frameBox[2];
  const normal=terms.filter(t=>!t.includes("\n")), wrapped=terms.filter(t=>t.includes("\n"));
  return Plot.plot({...box(...frameBox),
    x:{domain:[0,xMax],label:null},
    y:{domain:terms,range:rangeY,paddingInner:.3,paddingOuter:.15,round:false,axis:null},
    color:{domain:levelNames,range:levelColors},
    marks:[
      Plot.barX(rows,{x:"count",y:"name",fill:"level",stroke:INK,strokeWidth:3.5}),
      Plot.ruleY(terms,{y:d=>d,x1:0,x2:tickIn,stroke:INK,strokeWidth:3}),
      Plot.ruleY(terms,{y:d=>d,x1:xMax-tickIn,x2:xMax,stroke:INK,strokeWidth:3}),
      Plot.barX(boxes,{x1:d=>d[1],x2:d=>d[2],y:d=>d[0],fill:"none",stroke:"#e30000",strokeWidth:2.5,insetTop:-6.5,insetBottom:-6.5}),
      Plot.text(normal,{y:d=>d,x:labelX,text:d=>d,textAnchor:"end",fontSize:26,dy:labelDy}),
      Plot.text(wrapped,{y:d=>d,x:labelX+.04*xMax/20*3,text:d=>d,textAnchor:"end",fontSize:22.6,lineHeight:1.12,dy:-4}),
      Plot.ruleX(ticks.slice(1,-1),{insetBottom:h-12,stroke:INK,strokeWidth:3.5}),
      Plot.ruleY([dashTerm],{y:d=>d,x1:0,x2:dashEnd,dy:dashDy,stroke:INK,strokeWidth:3,strokeDasharray:"10,6"}),
      Plot.frame({stroke:INK,strokeWidth:4}),
      Plot.axisX({ticks,tickSize:12,strokeWidth:3.5,tickPadding:14,fontSize:29,tickFormat:fmt,label:null})
    ]});
}
add(enrichment(bTerms,bCounts,bLevels,bBoxes,[935.5,1589,98,535],20,[0,5,10,15,20],[108.6,529],"RNA transport",19,23.55,19.35,.35,-2.5));
add(enrichment(dTerms,dCounts,dLevels,dBoxes,[937,1582,706,1298],60,[0,20,40,60],[715.4,1292.9],"Alcoholism",18,70.2,57.7,1,-1.5));

// ---------- Panel C ----------
const band=(ys,a,b,fill)=>Plot.areaX(ys.map((y,i)=>({y,a:a[i],b:b[i]})),{y:"y",x1:"a",x2:"b",fill,curve:"linear"});
add(Plot.plot({...box(146.5,783.6,860.4,1285.6),
  x:{domain:[-5,5],label:null},y:{domain:[0,30],label:null},
  marks:[
    band(cGreyLeftY,cGreyLeftOuter,cGreyLeftInner,"#a9a9a9"),
    band(cGreyRightY,cGreyRightInner,cGreyRightOuter,"#a9a9a9"),
    dot(cGrey,"#a9a9a9",2.4),
    band(cBlueBandY,cBlueBandX,cBlueBandY.map(()=>-1),"#0052a5"),
    band(cRedBandY,cRedBandY.map(()=>1),cRedBandX,"#e30000"),
    dot(cDown,"#0052a5",2.4),dot(cDownDense,"#0052a5",2.4),dot(cUp,"#e30000",2.4),dot(cUpDense,"#e30000",2.4),
    Plot.ruleX([-1,1],{y1:0,y2:30,stroke:INK,strokeWidth:3.5,strokeDasharray:"13,8"}),
    Plot.ruleY([1.3],{x1:-5,x2:5,stroke:INK,strokeWidth:3.5,strokeDasharray:"13,8"}),
    Plot.frame({anchor:"left",stroke:INK,strokeWidth:4}),Plot.frame({anchor:"bottom",stroke:INK,strokeWidth:4}),
    Plot.axisX({ticks:[-5,0,5],tickSize:9,strokeWidth:3.5,tickPadding:17,fontSize:29,tickFormat:fmt,label:null}),
    Plot.axisY({ticks:[0,10,20,30],tickSize:9,strokeWidth:3.5,tickPadding:6,fontSize:29,tickFormat:fmt,label:null})
  ]}));

// ---------- Panel F ----------
add(Plot.plot({...box(1242,1719,1486.7,1805),
  x:{domain:[0,15],label:null},y:{domain:[0,15],label:null},
  marks:[
    dot(fPoints,INK,3.2),dot(fDense,INK,3.2),
    Plot.line(fFitX.map((x,i)=>({x,y:fFitY[i]})),{x:"x",y:"y",stroke:INK,strokeWidth:2.5}),
    Plot.frame({anchor:"left",stroke:INK,strokeWidth:2.5}),Plot.frame({anchor:"bottom",stroke:INK,strokeWidth:2.5}),
    Plot.axisX({ticks:[0,5,10,15],tickSize:7,strokeWidth:2.5,tickPadding:8,fontSize:23,tickFormat:fmt,label:null}),
    Plot.axisY({ticks:[0,5,10,15],tickSize:8,strokeWidth:2.5,tickPadding:3,fontSize:23,tickFormat:fmt,label:null})
  ]}));

// ---------- Panels H and I ----------
function barChart({groups,colors,v,hi,lo,frame,range,paddingInner,stroke,strokeWidth,side,stars,dashDx,dashLo,dashHi,capInset,rows}){
  const rowsData=tbl(groups,{v,hi,lo});
  const w=side==="left"?"left":"right";
  return Plot.plot({...box(...frame),
    x:{domain:groups,range,paddingInner,paddingOuter:paddingInner/2,round:false,axis:null,label:null},
    y:{domain:[0,4],label:null},
    color:{domain:groups,range:colors},
    marks:[
      Plot.barY(rowsData,{x:"name",y:"v",fill:"name",stroke,strokeWidth}),
      Plot.ruleX(rowsData,{x:"name",y1:"lo",y2:"hi",stroke:INK,strokeWidth:2}),
      Plot.tickY(rowsData,{x:"name",y:"hi",stroke:INK,strokeWidth:2,insetLeft:capInset,insetRight:capInset}),
      Plot.tickY(rowsData,{x:"name",y:"lo",stroke:INK,strokeWidth:2,insetLeft:capInset,insetRight:capInset}),
      Plot.ruleY([0],{stroke:INK,strokeWidth:3.5}),
      Plot.frame({anchor:w,stroke:INK,strokeWidth:3.5}),
      Plot.axisY({anchor:w,ticks:[0,1,2,3,4],tickSize:10,strokeWidth:3,tickPadding:4,fontSize:25,tickFormat:fmt,label:null}),
      stars?Plot.text(stars,{x:d=>d[0],y:d=>d[1],text:d=>d[2],fontSize:25,fontWeight:"normal"}):null,
      dashDx!=null?Plot.ruleX([groups[0]],{x:d=>d,y1:dashLo,y2:dashHi,dx:dashDx,stroke:INK,strokeWidth:2.5,strokeDasharray:"9,7"}):null,
      ...(rows||[]).map(r=>Plot.text(groups,{x:d=>d,y:()=>r.y,text:(d,i)=>r.signs[i],fontSize:27}))
    ]});
}
add(barChart({groups:hGroups,colors:hColors,v:hPromoter,hi:hPromoterHi,lo:hPromoterLo,frame:[551.7,750,2101.7,2437.3],range:[557.7,738.8],paddingInner:.21,stroke:"none",strokeWidth:0,side:"left",stars:hStars,capInset:12}));
add(barChart({groups:hGroups,colors:hColors,v:hMut,hi:hMutHi,lo:hMutLo,frame:[750,950,2101.7,2437.3],range:[762.6,942.8],paddingInner:.21,stroke:"none",strokeWidth:0,side:"right",dashDx:-30.6,dashLo:0,dashHi:3.68,capInset:12}));
const iRows=[{y:-.32,signs:rowCirc},{y:-.77,signs:rowSh1},{y:-1.21,signs:rowSh2}];
add(barChart({groups:iGroups,colors:iColors,v:iPromoter,hi:iPromoterHi,lo:iPromoterLo,frame:[1183.6,1444.4,2012.7,2348.3],range:[1200.6,1432.2],paddingInner:.27,stroke:INK,strokeWidth:3,side:"left",stars:iStars,capInset:11,rows:iRows}));
add(barChart({groups:iGroups,colors:iColors,v:iMut,hi:iMutHi,lo:iMutLo,frame:[1444.4,1709.5,2012.7,2348.3],range:[1457.5,1689.2],paddingInner:.27,stroke:INK,strokeWidth:3,side:"right",dashDx:-32.5,dashLo:-1.27,dashHi:4.04,capInset:11,rows:iRows}));

// ---------- Overlay: titles, legends, schematic panels ----------
const svg=d3.select(page).append("svg").attr("width",1740).attr("height",2479).style("font-family",FONT).style("font-weight","bold");
function T(txt,x,y,size,o={}){
  const t=svg.append("text").attr("x",x).attr("y",y).attr("font-size",size).attr("fill",o.c||INK).attr("text-anchor",o.a||"start");
  if(o.html)t.html(txt);else t.text(txt);
  if(o.w){t.attr("textLength",o.w).attr("lengthAdjust","spacingAndGlyphs")}
  if(o.rot!=null)t.attr("transform",`rotate(${o.rot} ${x} ${y})`);
  if(o.mid)t.attr("dominant-baseline","central");
  return t;
}
const RED="#e8141c";
const sub=(a,b,c,s)=>`${a}<tspan dy="${s*.24}" font-size="${s*.68}">${b}</tspan><tspan dy="${-s*.24}">${c}</tspan>`;
function swatch(x0,x1,y0,y1,fill,sw=3.5){svg.append("rect").attr("x",x0).attr("y",y0).attr("width",x1-x0).attr("height",y1-y0).attr("fill",fill).attr("stroke",sw?INK:"none").attr("stroke-width",sw)}
const L=(x1,y1,x2,y2,w,c=INK)=>svg.append("line").attr("x1",x1).attr("y1",y1).attr("x2",x2).attr("y2",y2).attr("stroke",c).attr("stroke-width",w);
// panel letters
[["A",15.5,36,33],["B",873,35,29],["C",15.5,684,30],["D",784,684,31],["E",17.5,1431,26],["F",1107,1432,24],["G",16,2011,33],["H",439,2013,28],["I",998,2011,8]].forEach(([s,x,y,w])=>T(s,x,y,38,{w}));
// A
svg.append("circle").attr("cx",462).attr("cy",51).attr("r",2.5).attr("fill","#e30000");
svg.append("circle").attr("cx",462).attr("cy",86).attr("r",2.5).attr("fill","#0052a5");
T("upregulated (n=120)",509.4,60.4,26,{w:288});
T("downregulated (n=307)",509.4,94.7,26,{w:329});
T("BUB1",772.5,218,26,{w:75.5,c:RED});
T(sub("log","2","(FC) in PC-3",26),340,626,26,{html:true,w:224});
T(sub("log","2","(FC) in DU145",26),80,455,26,{html:true,w:247,rot:-90});
// B
T("Enrichment analysis",1057.6,83.7,40,{w:409});
T("Count",1209.5,621,34,{w:103});
T("KEGG",1597,139,34,{w:105});T("GO",1599,181.6,34,{w:55});
swatch(1600,1647,206,235,levelColors[0]);swatch(1600,1647,283,312,levelColors[1]);swatch(1600,1647,359,389,levelColors[2]);
T("P<0.05",1597,269.4,32,{w:114});T("P<0.01",1597,347,32,{w:111});T("P<0.001",1597,422.4,32,{w:130});
// C
T("TCGA PRAD",347,722.6,40,{w:237});
svg.append("circle").attr("cx",158).attr("cy",777).attr("r",2.5).attr("fill","#0052a5");
svg.append("circle").attr("cx",158).attr("cy",819).attr("r",2.5).attr("fill","#e30000");
T("downregulated (n=1748)",206.4,787,28,{w:358});
T("upregulated (n=657)",206.4,829.7,28,{w:298.6});
T(sub("-log","10","(P-value)",26),75,1180,26,{html:true,w:215,rot:-90});
T(sub("log","2","(FC)",26),407,1377,26,{html:true,w:117.6});
// D
T("Enrichment analysis",1056.5,691,40,{w:403.5});
T("Count",1207.5,1385,34,{w:103});
T("KEGG",1590,923,34,{w:102});T("GO",1591,966.6,34,{w:54});
swatch(1592,1640.7,980,1010.5,levelColors[0]);swatch(1592,1640.7,1054,1085,levelColors[1]);swatch(1592,1640.7,1129,1159,levelColors[2]);
T("P<0.05",1591,1043.5,32,{w:111});T("P<0.01",1591,1118,32,{w:109});T("P<0.001",1591,1192,32,{w:129});
// E
T("Potential targets of Circ_0004087",28,1468.5,24,{w:410});
T("Potential oncogenes in PCa",607,1468.5,24,{w:345});
[[177.5,"#4562c4"],[265,"#dc4a4a"]].forEach(([cx,c])=>svg.append("ellipse").attr("cx",cx).attr("cy",1667.5).attr("rx",98).attr("ry",94).attr("fill",c).attr("fill-opacity",.6).attr("stroke",c).attr("stroke-width",1.5));
[[717.5,1787,45,"#3f5fc4",.6],[782.5,1722.5,45,"#d84444",.6],[782.5,1722.5,-45,"#3caf3c",.6],[847,1787,-45,"#f0ec5a",.55]].forEach(([X,cy,rot,c,op])=>{
  const len=395.4,wd=213;
  svg.append("rect").attr("x",X-len/2).attr("y",cy-wd/2).attr("width",len).attr("height",wd).attr("rx",wd/2)
    .attr("transform",`rotate(${rot} ${X} ${cy})`).attr("fill",c).attr("fill-opacity",op).attr("stroke",c).attr("stroke-width",1.5);
});
const center=(s,x,y,size,o={})=>T(s,x,y,size,{a:"middle",mid:true,...o});
center("0",119,1665.5,24);center("2",318,1662,24);
center("SMC1A",221,1638,24,{w:92.6});center("ZWINT",221,1669,24,{w:81});center("BUB1",221,1701,24,{w:66,c:RED});
center("8",709,1588,24);center("16",849,1587,24);center("12",650.5,1653,24);center("0",779,1637,24);center("0",916,1656,24);
center("5",580,1721,24);center("3",703,1706,24);center("0",849,1702,24);center("5",979,1718,24);center("1",641,1803,24);
center("0",917,1796,24);center("1",711,1848.5,24);center("4",849,1848.5,24);center("1",780,1916,24);
center("BUB1",781,1753,24,{w:65,c:RED});center("CDC25C",781,1784,24,{w:103});center("BUB1B",781,1816,24,{w:86});
L(221.8,1728.7,221.8,1850,3);L(220.3,1787,720.7,1787,4.5);
svg.append("path").attr("d","M211.8 1847L231.8 1847L221.8 1865Z").attr("fill",INK);
center("BUB1",217.5,1890.6,24,{w:67,c:RED});
center("GO: Mitotic cell",109,1538,24,{rot:-31,w:196.6});
center("Cycle checkpoint",124,1567,24,{rot:-31,w:220.6});
center("GO: Cell division",343,1577.5,24,{rot:31,w:215});
center("GO:Cell",702,1500,24,{w:96});center("division",702,1532,24,{w:96});
center("GO:Cell",857.5,1499,24,{w:96});center("proliferation",857.5,1531.6,24,{w:149});
center("GO: Mitotic",525,1631,24,{rot:-43,w:146.6});
center("nuclear division",546,1655,24,{rot:-44,w:207});
center("KEGG: Cell cycle",1021,1652,24,{rot:45.5,w:220});
// G
const defs=svg.append("defs");
const grad=(id,a,b)=>{const g=defs.append("linearGradient").attr("id",id).attr("x1","0%").attr("y1","0%").attr("x2","100%").attr("y2","60%");g.append("stop").attr("offset","0%").attr("stop-color",a);g.append("stop").attr("offset","100%").attr("stop-color",b)};
grad("gBlue","#3f66ad","#aec4e9");grad("gGreen","#5b8a3f","#c3dfaa");
function construct(dy){
  svg.append("rect").attr("x",25.5).attr("y",2157+dy).attr("width",129.5).attr("height",33.7).attr("rx",7).attr("fill","url(#gBlue)").attr("stroke",INK).attr("stroke-width",3);
  svg.append("rect").attr("x",155).attr("y",2150.7+dy).attr("width",274).attr("height",45.3).attr("rx",7).attr("fill","url(#gGreen)").attr("stroke",INK).attr("stroke-width",3);
  center("Luc",291.5,2173.5+dy,27,{w:45});
}
T("BUB1 promoter",3,2136,24,{w:191});construct(0);
T("BUB1 promoter-Mut",3,2313,24,{w:248});construct(177.7);
L(88,2330,132,2376,13,"#f00");L(132,2330,88,2376,13,"#f00");
L(109.7,2415,109.7,2392,4);svg.append("path").attr("d","M100.7 2396L118.7 2396L109.7 2380Z").attr("fill",INK);
T("MYB binding site mutation",1,2446.7,25,{w:330});
// H
[[569,609,2029,2052.7,hColors[0]],[569,609,2058,2081.7,hColors[1]],[713,754,2029,2052.7,hColors[2]],[713,754,2058,2081.7,hColors[3]],[713,754,2087,2109,hColors[4]]].forEach(([a,b,c,d,f])=>swatch(a,b,c,d,f,0));
T("Mock",628,2049,26,{w:67});T("MYB",628,2077.7,26,{w:56});
T("Sh-Scb",771.7,2049,26,{w:94});T("MYB-Sh#1",771.7,2077.7,26,{w:131});T("MYB-Sh#2",771.7,2106.7,26,{w:133});
T("Relative luciferase activity",477,2438,24,{w:339,rot:-90});
T("(Firefly/Renilla ratio)",513,2400.7,24,{w:262,rot:-90});
L(563,2447,734.7,2447,3.5);L(766.6,2447,937.5,2447,3.5);
T("BUB1 promoter",564.4,2471.7,22,{w:167});T("BUB1 promoter-Mut",745,2471.7,22,{w:215});
// F text
T("TCGA PRAD",1393.5,1446,28,{w:175.5});
T("Relative expression",1158,1766,24,{w:239,rot:-90});T("of BUB1",1190,1696,24,{w:99,rot:-90});
T("Relative expression of MYB",1313.6,1874,24,{w:334.6});
T("r=0.2563",1251.7,1501.7,25,{w:104});T("P<0.0001",1251.7,1531.7,25,{w:108});
// I
T("Relative luciferase activity",1107,2348,24,{w:338,rot:-90});
T("(Firefly/Renilla ratio)",1142.4,2310.7,24,{w:260.6,rot:-90});
T("BUB1 promoter",1225.8,2029,25,{w:183});T("BUB1 promoter-Mut",1451,2029,25,{w:236.6});
L(1205.4,2045,1425,2045,3.5);L(1460.9,2045,1682,2045,3.5);
T("Circ_0004087",1015,2381.7,25,{w:171});T("SND1-Sh#1",1038,2419,25,{w:145});T("SND1-Sh#2",1038,2460,25,{w:148});
</script>
</body>
</html>
